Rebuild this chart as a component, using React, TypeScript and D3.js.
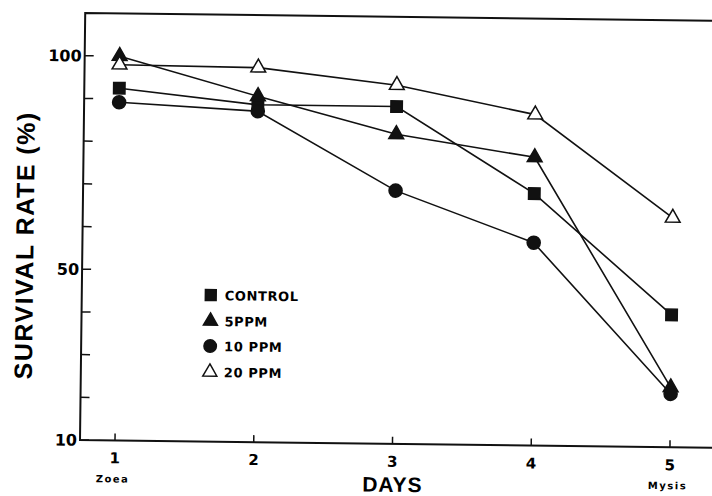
import { useEffect, useRef } from 'react'
import * as d3 from 'd3'

const days = [1, 2, 3, 4, 5]
const stages = ['Zoea', '', '', '', 'Mysis']
const control = [92.5, 89, 89, 69, 41]
const ppm5 = [100, 91, 82.5, 77.5, 24]
const ppm10 = [89.2, 87.5, 69.3, 57.5, 22.5]
const ppm20 = [98, 97.7, 94, 87.5, 63.7]
const seriesNames = ['CONTROL', '5PPM', '10 PPM', '20 PPM']
const yTicks = [10, 20, 30, 40, 50, 60, 70, 80, 90, 100]
const yLabels = [10, 50, 100]

const FONT = "'Liberation Sans', Arial, sans-serif"
const NUM_FONT = "'DejaVu Sans', sans-serif"

export default function App() {
  const svgRef = useRef<SVGSVGElement>(null)

  useEffect(() => {
    if (!svgRef.current) return
    const svg = d3.select(svgRef.current)
    svg.selectAll('*').remove()

    // the scanned figure is tilted a little clockwise
    const g = svg.append('g').attr('transform', 'rotate(0.7, 80, 440)')

    const x = d3.scaleLinear().domain([1, 5]).range([115, 670])
    const y = d3.scaleLinear().domain([10, 110]).range([440, 13])
    const x0 = 80
    const xEnd = 730

    // frame: left axis, bottom axis, top border
    g.append('path')
      .attr('d', `M${xEnd},${y(110)} H${x0} V${y(10)} H${xEnd}`)
      .attr('fill', 'none')
      .attr('stroke', '#111')
      .attr('stroke-width', 2)

    // y ticks (inward)
    g.selectAll('.ytick')
      .data(yTicks)
      .enter()
      .append('line')
      .attr('x1', x0)
      .attr('x2', x0 + 9)
      .attr('y1', d => y(d))
      .attr('y2', d => y(d))
      .attr('stroke', '#111')
      .attr('stroke-width', 1.5)

    g.selectAll('.ylab')
      .data(yLabels)
      .enter()
      .append('text')
      .attr('x', x0 - 3)
      .attr('y', d => y(d))
      .attr('dy', '0.36em')
      .attr('text-anchor', 'end')
      .style('font-family', NUM_FONT)
      .style('font-weight', 'bold')
      .style('font-size', '16px')
      .text(d => d)

    // x ticks (inward)
    g.selectAll('.xtick')
      .data(days)
      .enter()
      .append('line')
      .attr('x1', d => x(d))
      .attr('x2', d => x(d))
      .attr('y1', y(10))
      .attr('y2', y(10) - 7)
      .attr('stroke', '#111')
      .attr('stroke-width', 1.5)

    g.selectAll('.xlab')
      .data(days)
      .enter()
      .append('text')
      .attr('x', d => x(d))
      .attr('y', 463)
      .attr('text-anchor', 'middle')
      .style('font-family', NUM_FONT)
      .style('font-weight', 'bold')
      .style('font-size', '15px')
      .text(d => d)

    g.selectAll('.stage')
      .data(days)
      .enter()
      .append('text')
      .attr('x', d => x(d) - 2)
      .attr('y', 482)
      .attr('text-anchor', 'middle')
      .style('font-family', NUM_FONT)
      .style('font-weight', 'bold')
      .style('font-size', '10px')
      .style('letter-spacing', '1.5px')
      .text((d, i) => stages[i])

    // axis titles
    g.append('text')
      .attr('x', 393)
      .attr('y', 488)
      .attr('text-anchor', 'middle')
      .style('font-family', FONT)
      .style('font-weight', 'bold')
      .style('font-size', '21px')
      .style('letter-spacing', '1px')
      .text('DAYS')

    g.append('text')
      .attr('transform', 'translate(31, 246) rotate(-90)')
      .attr('text-anchor', 'middle')
      .style('font-family', FONT)
      .style('font-weight', 'bold')
      .style('font-size', '25px')
      .style('letter-spacing', '1.5px')
      .text('SURVIVAL RATE (%)')

    // series
    const series = [
      { values: control, symbol: d3.symbolSquare, size: 130, fill: '#111' },
      { values: ppm5, symbol: d3.symbolTriangle, size: 95, fill: '#111' },
      { values: ppm10, symbol: d3.symbolCircle, size: 135, fill: '#111' },
      { values: ppm20, symbol: d3.symbolTriangle, size: 95, fill: '#fff' }
    ]

    const line = d3.line<number>()
      .x((d, i) => x(days[i]))
      .y(d => y(d))

    series.forEach(s => {
      g.append('path')
        .datum(s.values)
        .attr('d', line)
        .attr('fill', 'none')
        .attr('stroke', '#111')
        .attr('stroke-width', 1.6)
    })

    series.forEach(s => {
      const sym = d3.symbol().type(s.symbol).size(s.size)
      g.selectAll(null)
        .data(s.values)
        .enter()
        .append('path')
        .attr('d', sym as any)
        .attr('transform', (d, i) => `translate(${x(days[i])},${y(d)})`)
        .attr('fill', s.fill)
        .attr('stroke', '#111')
        .attr('stroke-width', 1.5)
    })

    // legend
    const legendY = [293.5, 319.5, 344.5, 370.5]
    series.forEach((s, i) => {
      const sym = d3.symbol().type(s.symbol).size(s.size * 0.9)
      g.append('path')
        .attr('d', sym as any)
        .attr('transform', `translate(209,${legendY[i]})`)
        .attr('fill', s.fill)
        .attr('stroke', '#111')
        .attr('stroke-width', 1.5)
      g.append('text')
        .attr('x', 223)
        .attr('y', legendY[i] + 5)
        .style('font-family', NUM_FONT)
        .style('font-weight', 'bold')
        .style('font-size', '13px')
        .style('letter-spacing', '0.6px')
        .text(seriesNames[i])
    })
  }, [])

  return (
    <svg
      ref={svgRef}
      width={712}
      height={496}
      style={{ position: 'absolute', left: 0, top: 0, background: '#fff' }}
    />
  )
}
